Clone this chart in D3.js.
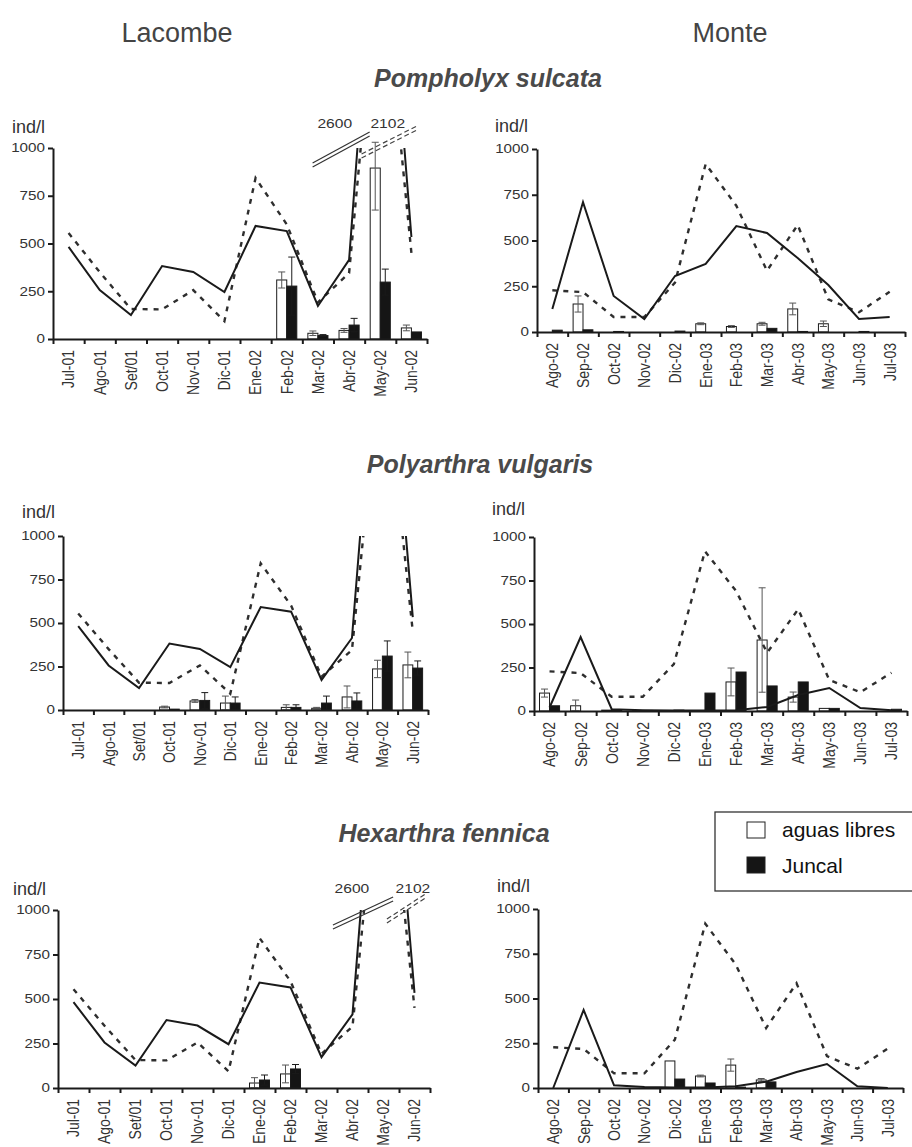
<!DOCTYPE html>
<html>
<head>
<meta charset="utf-8">
<script src="https://cdnjs.cloudflare.com/ajax/libs/d3/7.8.5/d3.min.js"></script>
<style>
  body { margin: 0; background: #fff; }
  svg { font-family: 'Liberation Sans', Arial, sans-serif; }
</style>
</head>
<body>
<svg id="chart" width="912" height="1147"></svg>
<script>
// ---------- data ----------
const mesesLacombe = ['Jul-01', 'Ago-01', 'Set/01', 'Oct-01', 'Nov-01', 'Dic-01', 'Ene-02', 'Feb-02', 'Mar-02', 'Abr-02', 'May-02', 'Jun-02'];
const mesesMonte = ['Ago-02', 'Sep-02', 'Oct-02', 'Nov-02', 'Dic-02', 'Ene-03', 'Feb-03', 'Mar-03', 'Abr-03', 'May-03', 'Jun-03', 'Jul-03'];
const yTicks = [0, 250, 500, 750, 1000];

// lines (ind/l)
const lacombeSolid = [482, 256, 126, 382, 351, 246, 592, 565, 173, 414, 2600, 534];
const lacombeDashed = [555, 350, 157, 155, 256, 94, 843, 600, 192, 345, 2102, 450];
const monteDashed = [228, 218, 82, 82, 270, 918, 690, 335, 585, 178, 108, 220];
const monteSolidPomp = [126, 710, 197, 71, 306, 372, 579, 541, 404, 257, 71, 82];
const monteSolidPoly = [20, 425, 10, 5, 3, 3, 5, 23, 92, 132, 17, 5];
const monteSolidHexa = [0, 436, 15, 5, 3, 3, 10, 35, 89, 134, 10, 0];

// bars: aguas libres / Juncal, with error
const pompLacLibres = [0, 0, 0, 0, 0, 0, 0, 309, 30, 45, 895, 58];
const pompLacLibresErr = [0, 0, 0, 0, 0, 0, 0, 42, 12, 10, 220, 15];
const pompLacJuncal = [0, 0, 0, 0, 0, 0, 0, 277, 18, 73, 298, 37];
const pompLacJuncalErr = [0, 0, 0, 0, 0, 0, 0, 152, 5, 35, 68, 0];

const pompMonLibres = [0, 153, 0, 0, 0, 45, 30, 45, 126, 45, 0, 0];
const pompMonLibresErr = [0, 44, 0, 0, 0, 5, 5, 8, 32, 15, 0, 0];
const pompMonJuncal = [10, 12, 3, 0, 5, 0, 0, 20, 3, 0, 3, 0];
const pompMonJuncalErr = [0, 0, 0, 0, 0, 0, 0, 0, 0, 0, 0, 0];

const polyLacLibres = [0, 0, 0, 17, 52, 40, 0, 15, 10, 75, 236, 259];
const polyLacLibresErr = [0, 0, 0, 5, 8, 40, 0, 15, 5, 63, 50, 74];
const polyLacJuncal = [0, 0, 0, 5, 55, 40, 0, 15, 40, 52, 310, 241];
const polyLacJuncalErr = [0, 0, 0, 0, 45, 35, 0, 15, 40, 46, 87, 41];

const polyMonLibres = [103, 30, 5, 3, 0, 0, 167, 408, 80, 15, 0, 0];
const polyMonLibresErr = [23, 33, 0, 0, 0, 0, 80, 300, 29, 0, 0, 0];
const polyMonJuncal = [30, 0, 5, 3, 5, 103, 224, 144, 167, 15, 0, 10];
const polyMonJuncalErr = [0, 0, 0, 0, 0, 0, 0, 0, 0, 0, 0, 0];

const hexaLacLibres = [0, 0, 0, 0, 0, 0, 28, 79, 0, 0, 0, 0];
const hexaLacLibresErr = [0, 0, 0, 0, 0, 0, 30, 50, 0, 0, 0, 0];
const hexaLacJuncal = [0, 0, 0, 0, 0, 0, 45, 107, 0, 0, 0, 0];
const hexaLacJuncalErr = [0, 0, 0, 0, 0, 0, 28, 25, 0, 0, 0, 0];

const hexaMonLibres = [0, 0, 0, 0, 151, 67, 128, 45, 0, 0, 0, 0];
const hexaMonLibresErr = [0, 0, 0, 0, 0, 5, 34, 8, 0, 0, 0, 0];
const hexaMonJuncal = [0, 0, 0, 0, 50, 28, 5, 34, 0, 0, 0, 0];
const hexaMonJuncalErr = [0, 0, 0, 0, 0, 0, 0, 0, 0, 0, 0, 0];

const especies = ['Pompholyx sulcata', 'Polyarthra vulgaris', 'Hexarthra fennica'];
const sitios = ['Lacombe', 'Monte'];
const leyenda = ['aguas libres', 'Juncal'];

// break marks for the off-scale May-02 values: [index, value]
const breakPomp = {solid: [[7.83, 921], [9.66, 1084]], dashed: [[9.40, 974], [11.17, 1120]], labels: [[8.54, 1105], [10.24, 1105]]};
const breakHexa = {solid: [[8.37, 916], [10.31, 1073]], dashed: [[10.11, 955], [11.40, 1101]], labels: [[8.98, 1096], [10.95, 1096]]};

// ---------- layout ----------
const panels = [
  {months: mesesLacombe, solid: lacombeSolid, dashed: lacombeDashed,
   libres: pompLacLibres, libresErr: pompLacLibresErr, juncal: pompLacJuncal, juncalErr: pompLacJuncalErr,
   box: {left: 53, right: 427, top: 148, bottom: 339}, unit: [12, 133], brk: breakPomp},
  {months: mesesMonte, solid: monteSolidPomp, dashed: monteDashed,
   libres: pompMonLibres, libresErr: pompMonLibresErr, juncal: pompMonJuncal, juncalErr: pompMonJuncalErr,
   box: {left: 537, right: 905, top: 149, bottom: 332}, unit: [495, 132]},
  {months: mesesLacombe, solid: lacombeSolid, dashed: lacombeDashed,
   libres: polyLacLibres, libresErr: polyLacLibresErr, juncal: polyLacJuncal, juncalErr: polyLacJuncalErr,
   box: {left: 63, right: 428, top: 536, bottom: 710}, unit: [22, 518]},
  {months: mesesMonte, solid: monteSolidPoly, dashed: monteDashed,
   libres: polyMonLibres, libresErr: polyMonLibresErr, juncal: polyMonJuncal, juncalErr: polyMonJuncalErr,
   box: {left: 534, right: 907, top: 537, bottom: 711}, unit: [492, 515]},
  {months: mesesLacombe, solid: lacombeSolid, dashed: lacombeDashed,
   libres: hexaLacLibres, libresErr: hexaLacLibresErr, juncal: hexaLacJuncal, juncalErr: hexaLacJuncalErr,
   box: {left: 58, right: 430, top: 910, bottom: 1088}, unit: [13, 895], brk: breakHexa},
  {months: mesesMonte, solid: monteSolidHexa, dashed: monteDashed,
   libres: hexaMonLibres, libresErr: hexaMonLibresErr, juncal: hexaMonJuncal, juncalErr: hexaMonJuncalErr,
   box: {left: 538, right: 903, top: 909, bottom: 1088}, unit: [497, 892]}
];

const titlePos = [[488, 87], [480, 473], [444, 842]];
const sitioPos = [[177, 42], [730, 42]];

function translate(x, y) {
  return `translate(${x}, ${y})`;
}

const svg = d3.select('#chart');
const ink = '#1a1a1a';

// ---------- headings ----------
svg.selectAll('.sitio').data(sitios).enter()
  .append('text')
    .attr('class', 'sitio')
    .attr('x', (d, i) => sitioPos[i][0])
    .attr('y', (d, i) => sitioPos[i][1])
    .attr('text-anchor', 'middle')
    .style('font-size', '27px')
    .style('fill', '#444')
    .text(d => d);

svg.selectAll('.especie').data(especies).enter()
  .append('text')
    .attr('class', 'especie')
    .attr('x', (d, i) => titlePos[i][0])
    .attr('y', (d, i) => titlePos[i][1])
    .attr('text-anchor', 'middle')
    .style('font-size', '25px')
    .style('font-weight', 'bold')
    .style('font-style', 'italic')
    .style('fill', '#4a4a4a')
    .text(d => d);

// ---------- panels ----------
function drawPanel(p, k) {
  const b = p.box;
  const g = svg.append('g').attr('class', 'panel');

  const x = d3.scaleBand().domain(p.months).range([b.left, b.right]);
  const xi = d3.scaleLinear().domain([-0.5, 11.5]).range([b.left, b.right]);
  const xBar = d3.scaleBand().domain(leyenda).range([0, x.bandwidth()]).paddingOuter(0.55);
  const y = d3.scaleLinear().domain([0, 1000]).range([b.bottom, b.top]);

  const clipId = 'clip' + k;
  svg.append('clipPath').attr('id', clipId)
    .append('rect')
      .attr('x', b.left - 10).attr('y', b.top)
      .attr('width', b.right - b.left + 20).attr('height', b.bottom - b.top + 10);

  // bars
  const series = [
    {key: leyenda[0], vals: p.libres, errs: p.libresErr, fill: '#fff'},
    {key: leyenda[1], vals: p.juncal, errs: p.juncalErr, fill: '#151515'}
  ];
  const bw = xBar.bandwidth();
  series.forEach(s => {
    const rows = p.months.map((m, i) => ({m: m, v: s.vals[i], e: s.errs[i]})).filter(d => d.v > 0);
    g.selectAll(null).data(rows).enter()
      .append('rect')
        .attr('x', d => x(d.m) + xBar(s.key))
        .attr('y', d => y(d.v))
        .attr('width', bw)
        .attr('height', d => b.bottom - y(d.v))
        .style('fill', s.fill)
        .style('stroke', ink)
        .style('stroke-width', 1);

    const errs = rows.filter(d => d.e > 0);
    const cx = d => x(d.m) + xBar(s.key) + bw / 2;
    const hi = d => y(Math.min(d.v + d.e, 1030));
    const lo = d => y(Math.max(d.v - d.e, 0));
    const errColor = s.fill === '#fff' ? '#555' : ink;
    g.selectAll(null).data(errs).enter()
      .append('line')
        .attr('x1', cx).attr('x2', cx)
        .attr('y1', lo).attr('y2', hi)
        .style('stroke', errColor).style('stroke-width', 1);
    [hi, lo].forEach(fy => {
      g.selectAll(null).data(errs).enter()
        .append('line')
          .attr('x1', d => cx(d) - bw * 0.35).attr('x2', d => cx(d) + bw * 0.35)
          .attr('y1', fy).attr('y2', fy)
          .style('stroke', errColor).style('stroke-width', 1);
    });
  });

  // lines
  const line = d3.line()
    .x((d, i) => x(p.months[i]) + x.bandwidth() / 2)
    .y(d => y(d));

  g.append('path')
    .datum(p.dashed)
    .attr('clip-path', `url(#${clipId})`)
    .attr('d', line)
    .style('fill', 'none')
    .style('stroke', '#2e2e2e')
    .style('stroke-width', 2.4)
    .style('stroke-dasharray', '5,6');

  g.append('path')
    .datum(p.solid)
    .attr('clip-path', `url(#${clipId})`)
    .attr('d', line)
    .style('fill', 'none')
    .style('stroke', ink)
    .style('stroke-width', 2);

  // y axis
  const yAxis = g.append('g')
    .attr('transform', translate(b.left, 0))
    .call(d3.axisLeft(y).tickValues(yTicks).tickFormat(d3.format('d'))
      .tickSize(5).tickSizeOuter(0).tickPadding(3));
  yAxis.selectAll('text')
    .attr('x', -8 / 1.27)
    .attr('transform', 'scale(1.27,1)')
    .style('font-size', '12px')
    .style('fill', '#333');

  // x axis: labels at band centres, ticks at band edges
  const xAxis = g.append('g')
    .attr('transform', translate(0, b.bottom))
    .call(d3.axisBottom(x).tickSize(0).tickSizeOuter(0));
  xAxis.select('.domain').remove();
  xAxis.selectAll('text')
    .attr('transform', 'rotate(-90) scale(1,1.2)')
    .attr('x', -11)
    .attr('y', 0)
    .attr('dy', '0.35em')
    .style('text-anchor', 'end')
    .style('font-size', '14px')
    .style('fill', '#333');

  g.append('g')
    .attr('transform', translate(0, b.bottom))
    .call(d3.axisBottom(d3.scaleLinear().domain([0, 12]).range([b.left, b.right]))
      .ticks(12).tickFormat('').tickSize(5).tickSizeOuter(0));

  g.selectAll('.domain, .tick line')
    .style('stroke', ink)
    .style('stroke-width', 2);

  // unit label
  g.append('text')
    .attr('x', p.unit[0])
    .attr('y', p.unit[1])
    .style('font-size', '18px')
    .style('fill', '#333')
    .text('ind/l');

  // break marks for off-scale values
  if (p.brk) {
    const br = p.brk;
    [0, 4].forEach(off => {
      g.append('line')
        .attr('x1', xi(br.solid[0][0])).attr('y1', y(br.solid[0][1]) + off)
        .attr('x2', xi(br.solid[1][0])).attr('y2', y(br.solid[1][1]) + off)
        .style('stroke', '#333').style('stroke-width', 1.2);
      g.append('line')
        .attr('x1', xi(br.dashed[0][0])).attr('y1', y(br.dashed[0][1]) + off + 1)
        .attr('x2', xi(br.dashed[1][0])).attr('y2', y(br.dashed[1][1]) + off + 1)
        .style('stroke', '#444').style('stroke-width', 1.2)
        .style('stroke-dasharray', '5,3');
    });
    const labs = [p.solid[10], p.dashed[10]];
    g.selectAll(null).data(labs).enter()
      .append('text')
        .attr('transform', (d, i) => translate(xi(br.labels[i][0]), y(br.labels[i][1])) + ' scale(1.2,1)')
        .attr('text-anchor', 'middle')
        .style('font-size', '13px')
        .style('fill', '#333')
        .text(d => d);
  }
}

panels.forEach(drawPanel);

// ---------- legend ----------
const lg = svg.append('g').attr('transform', translate(715, 812));
lg.append('rect')
  .attr('width', 210).attr('height', 79)
  .style('fill', '#fff').style('stroke', '#333').style('stroke-width', 1.3);
lg.selectAll('.lgsq').data(leyenda).enter()
  .append('rect')
    .attr('x', 32).attr('y', (d, i) => 10 + i * 35)
    .attr('width', 18).attr('height', 16)
    .style('fill', (d, i) => i === 0 ? '#fff' : '#151515')
    .style('stroke', '#222').style('stroke-width', 1);
lg.selectAll('.lgtx').data(leyenda).enter()
  .append('text')
    .attr('x', 67).attr('y', (d, i) => 25 + i * 36)
    .style('font-size', '21px')
    .style('fill', '#111')
    .text(d => d);
</script>
</body>
</html>
